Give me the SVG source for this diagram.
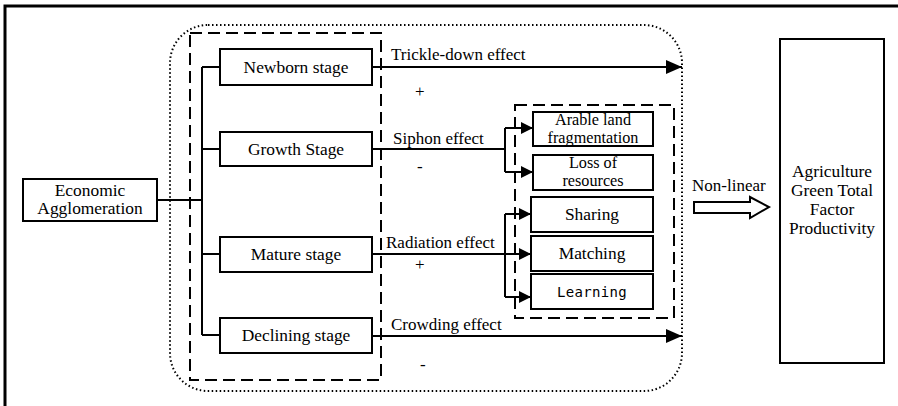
<svg xmlns="http://www.w3.org/2000/svg" width="898" height="406" viewBox="0 0 898 406">
<style>
.box{fill:#fff;stroke:#000;stroke-width:2}
.ln{fill:none;stroke:#000;stroke-width:2}
.t{font-family:"Liberation Serif","Times New Roman","DejaVu Serif",serif;font-size:17px;fill:#000}
.b{font-size:17.4px}
.s{font-size:16.2px}
.c{text-anchor:middle}
.m{font-family:"DejaVu Sans Mono","Liberation Mono",monospace;font-size:14px;letter-spacing:0.3px;fill:#000}
</style>
<defs>
<marker id="big" markerWidth="16" markerHeight="14" refX="16" refY="7" orient="auto" markerUnits="userSpaceOnUse"><path d="M0,0 L16,7 L0,14 Z" fill="#000"/></marker>
<marker id="sm" markerWidth="12" markerHeight="12" refX="12" refY="6" orient="auto" markerUnits="userSpaceOnUse"><path d="M0,0 L12,6 L0,12 Z" fill="#000"/></marker>
</defs>
<rect width="898" height="406" fill="#fff"/>
<g id="frame">
<path d="M5,406 V6 H898" fill="none" stroke="#000" stroke-width="3"/>
</g>
<g id="groups">
<rect x="170" y="25" width="512" height="366" rx="38" ry="38" fill="none" stroke="#000" stroke-width="2" stroke-dasharray="1.5 2.5"/>
<rect x="190" y="33" width="191" height="347" fill="none" stroke="#000" stroke-width="2" stroke-dasharray="12 6"/>
<rect x="515" y="105" width="159" height="213" fill="none" stroke="#000" stroke-width="2" stroke-dasharray="12 6"/>
</g>
<g id="connectors">
<path class="ln" d="M157,200 H202 M202,67 V335 M202,67 H220 M202,149 H220 M202,254 H220 M202,335 H220"/>
<path class="ln" d="M372,67 H682" marker-end="url(#big)"/>
<path class="ln" d="M372,336 H682" marker-end="url(#big)"/>
<path class="ln" d="M372,149 H505 M505,128 V172"/>
<path class="ln" d="M505,128 H533" marker-end="url(#sm)"/>
<path class="ln" d="M505,172 H533" marker-end="url(#sm)"/>
<path class="ln" d="M372,254 H531 M505,214 V297"/>
<path class="ln" d="M505,214 H531" marker-end="url(#sm)"/>
<path class="ln" d="M505,254 H531" marker-end="url(#sm)"/>
<path class="ln" d="M505,297 H531" marker-end="url(#sm)"/>
<path d="M694,202 H750 V197 L769,207 L750,218 V213 H694 Z" fill="#fff" stroke="#000" stroke-width="2"/>
<text class="t" x="391" y="60">Trickle-down effect</text>
<text class="t" x="415" y="97">+</text>
<text class="t" x="393" y="144">Siphon effect</text>
<text class="t" x="417" y="172">-</text>
<text class="t" x="386" y="248">Radiation effect</text>
<text class="t" x="415" y="270">+</text>
<text class="t" x="391" y="330">Crowding effect</text>
<text class="t" x="420" y="370">-</text>
<text class="t" x="692" y="191">Non-linear</text>
</g>
<g id="economic">
<rect class="box" x="23" y="179" width="134" height="42"/>
<text class="t b c" x="90" y="196">Economic</text>
<text class="t b c" x="90" y="214">Agglomeration</text>
</g>
<g id="newborn">
<rect class="box" x="220" y="49" width="152" height="36"/>
<text class="t b c" x="296" y="73">Newborn stage</text>
</g>
<g id="growth">
<rect class="box" x="220" y="132" width="152" height="34"/>
<text class="t b c" x="296" y="155">Growth Stage</text>
</g>
<g id="mature">
<rect class="box" x="220" y="237" width="152" height="35"/>
<text class="t b c" x="296" y="260">Mature stage</text>
</g>
<g id="declining">
<rect class="box" x="220" y="318" width="152" height="35"/>
<text class="t b c" x="296" y="341">Declining stage</text>
</g>
<g id="arable">
<rect class="box" x="533" y="112" width="120" height="34"/>
<text class="t s c" x="593" y="125">Arable land</text>
<text class="t s c" x="593" y="143">fragmentation</text>
</g>
<g id="loss">
<rect class="box" x="533" y="155" width="120" height="35"/>
<text class="t s c" x="593" y="168">Loss of</text>
<text class="t s c" x="593" y="186">resources</text>
</g>
<g id="sharing">
<rect class="box" x="531" y="197" width="122" height="35"/>
<text class="t b c" x="592" y="220">Sharing</text>
</g>
<g id="matching">
<rect class="box" x="531" y="236" width="122" height="35"/>
<text class="t b c" x="592" y="259">Matching</text>
</g>
<g id="learning">
<rect class="box" x="531" y="274" width="122" height="35"/>
<text class="m c" x="592" y="297">Learning</text>
</g>
<g id="agri">
<rect class="box" x="780" y="39" width="104" height="324"/>
<text class="t b c" x="832" y="177">Agriculture</text>
<text class="t b c" x="832" y="196">Green Total</text>
<text class="t b c" x="832" y="215">Factor</text>
<text class="t b c" x="832" y="234">Productivity</text>
</g>
</svg>
